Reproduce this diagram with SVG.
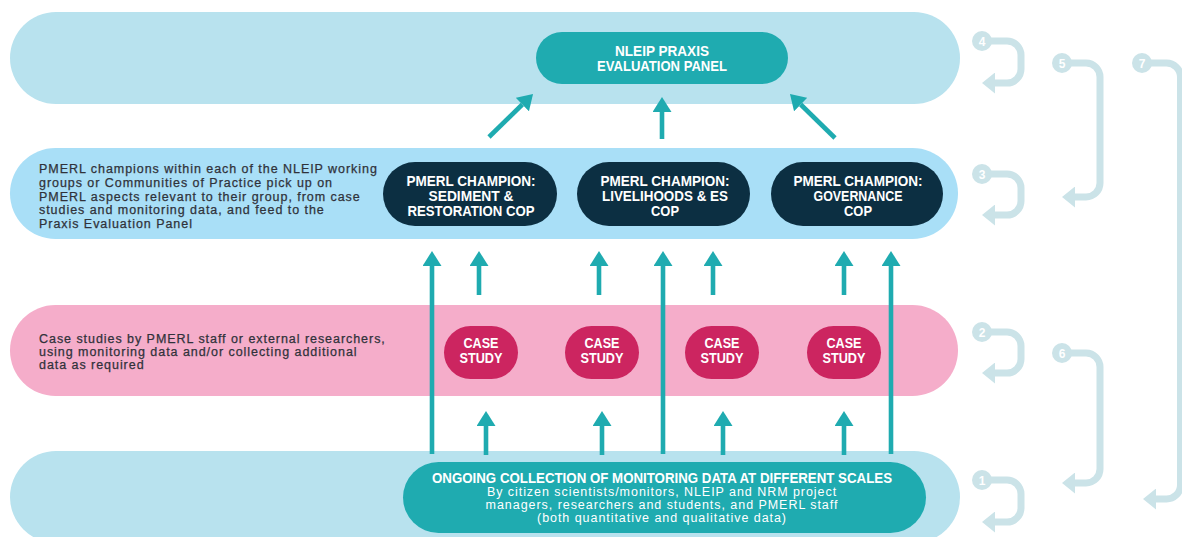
<svg xmlns="http://www.w3.org/2000/svg" width="1182" height="537" viewBox="0 0 1182 537">
  <style>
    .band-top { fill: #b8e2ee; }
    .band-champ { fill: #a9dff7; }
    .band-case { fill: #f5adca; }
    .teal { fill: #1fabb0; }
    .navy { fill: #0c2f42; }
    .crimson { fill: #cc2560; }
    .desc { font-family: "Liberation Sans", Arial, sans-serif; font-size: 12.5px; letter-spacing: 0.95px; fill: #30323a; stroke: #30323a; stroke-width: 0.25px; }
    .desc-white { font-family: "Liberation Sans", Arial, sans-serif; font-size: 12.5px; letter-spacing: 0.95px; fill: #ffffff; text-anchor: middle; }
    .cap { font-family: "Liberation Sans", Arial, sans-serif; font-weight: bold; fill: #ffffff; text-anchor: middle; }
    .flow { stroke: #1fabb0; stroke-width: 4.6; fill: none; marker-end: url(#tealHead); }
    .loop { stroke: #cbe3e8; stroke-width: 7; fill: none; marker-end: url(#loopHead); }
    .step-dot { fill: #cbe3e8; }
    .step-num { font-family: "Liberation Sans", Arial, sans-serif; font-weight: bold; font-size: 12px; fill: #ffffff; text-anchor: middle; }
  </style>
  <defs>
    <marker id="tealHead" viewBox="0 0 15 19" refX="0" refY="9.5" markerWidth="15" markerHeight="19" markerUnits="userSpaceOnUse" orient="auto">
      <path d="M0,0 L15,9.5 L0,19 z" fill="#1fabb0"/>
    </marker>
    <marker id="loopHead" viewBox="0 0 13 21" refX="0" refY="10.5" markerWidth="13" markerHeight="21" markerUnits="userSpaceOnUse" orient="auto">
      <path d="M0,0 L13,10.5 L0,21 z" fill="#cbe3e8"/>
    </marker>
  </defs>

  <!-- background tiers -->
  <g id="tier-panel">
    <rect class="band-top" x="10" y="12" width="950" height="92" rx="46"/>
  </g>
  <g id="tier-champions">
    <rect class="band-champ" x="10" y="148" width="948" height="91" rx="45.5"/>
    <text class="desc" x="39" y="173">PMERL champions within each of the NLEIP working</text>
    <text class="desc" x="39" y="187">groups or Communities of Practice pick up on</text>
    <text class="desc" x="39" y="201">PMERL aspects relevant to their group, from case</text>
    <text class="desc" x="39" y="214">studies and monitoring data, and feed to the</text>
    <text class="desc" x="39" y="228">Praxis Evaluation Panel</text>
  </g>
  <g id="tier-case-studies">
    <rect class="band-case" x="10" y="305" width="948" height="91" rx="45.5"/>
    <text class="desc" x="39" y="343">Case studies by PMERL staff or external researchers,</text>
    <text class="desc" x="39" y="356">using monitoring data and/or collecting additional</text>
    <text class="desc" x="39" y="369">data as required</text>
  </g>
  <g id="tier-monitoring">
    <rect class="band-top" x="10" y="451" width="950" height="92" rx="46"/>
  </g>

  <!-- connectors -->
  <g id="connectors">
    <!-- champions to panel -->
    <line class="flow" x1="489" y1="137" x2="522.3" y2="104.5"/>
    <line class="flow" x1="662" y1="139" x2="662" y2="112"/>
    <line class="flow" x1="835" y1="138" x2="800.7" y2="104.5"/>
    <!-- monitoring straight to champions -->
    <line class="flow" x1="432" y1="454" x2="432" y2="266"/>
    <line class="flow" x1="663" y1="454" x2="663" y2="266"/>
    <line class="flow" x1="891" y1="454" x2="891" y2="266"/>
    <!-- case studies to champions -->
    <line class="flow" x1="479" y1="295" x2="479" y2="266"/>
    <line class="flow" x1="599" y1="295" x2="599" y2="266"/>
    <line class="flow" x1="713" y1="295" x2="713" y2="266"/>
    <line class="flow" x1="844" y1="295" x2="844" y2="266"/>
    <!-- monitoring to case studies -->
    <line class="flow" x1="486" y1="455" x2="486" y2="426"/>
    <line class="flow" x1="602" y1="455" x2="602" y2="426"/>
    <line class="flow" x1="723" y1="455" x2="723" y2="426"/>
    <line class="flow" x1="844" y1="455" x2="844" y2="426"/>

    <!-- feedback loops -->
    <path class="loop" d="M982,41 H1007 A14,14 0 0 1 1021,55 V69 A14,14 0 0 1 1007,83 H995"/>
    <path class="loop" d="M982,174 H1007 A14,14 0 0 1 1021,188 V201 A14,14 0 0 1 1007,215 H995"/>
    <path class="loop" d="M982,332 H1007 A14,14 0 0 1 1021,346 V359 A14,14 0 0 1 1007,373 H995"/>
    <path class="loop" d="M982,480 H1007 A14,14 0 0 1 1021,494 V508 A14,14 0 0 1 1007,522 H995"/>
    <path class="loop" d="M1062,63 H1086 A14,14 0 0 1 1100,77 V183 A14,14 0 0 1 1086,197 H1075"/>
    <path class="loop" d="M1062,353 H1086 A14,14 0 0 1 1100,367 V469 A14,14 0 0 1 1086,483 H1075"/>
    <path class="loop" d="M1142,63 H1166 A14,14 0 0 1 1180.5,77 V485 A14,14 0 0 1 1166,499 H1156"/>
  </g>

  <!-- step markers -->
  <g id="step-4"><circle class="step-dot" cx="982" cy="41" r="10"/><text class="step-num" x="982" y="45.5">4</text></g>
  <g id="step-3"><circle class="step-dot" cx="982" cy="174" r="10"/><text class="step-num" x="982" y="178.5">3</text></g>
  <g id="step-2"><circle class="step-dot" cx="982" cy="332" r="10"/><text class="step-num" x="982" y="336.5">2</text></g>
  <g id="step-1"><circle class="step-dot" cx="982" cy="480" r="10"/><text class="step-num" x="982" y="484.5">1</text></g>
  <g id="step-5"><circle class="step-dot" cx="1062" cy="63" r="10"/><text class="step-num" x="1062" y="67.5">5</text></g>
  <g id="step-6"><circle class="step-dot" cx="1062" cy="353" r="10"/><text class="step-num" x="1062" y="357.5">6</text></g>
  <g id="step-7"><circle class="step-dot" cx="1142" cy="63" r="10"/><text class="step-num" x="1142" y="67.5">7</text></g>

  <!-- nodes -->
  <g id="praxis-panel">
    <rect class="teal" x="536" y="32" width="252" height="52" rx="26"/>
    <text class="cap" x="662" y="56" font-size="14" textLength="94" lengthAdjust="spacingAndGlyphs">NLEIP PRAXIS</text>
    <text class="cap" x="662" y="71" font-size="14" textLength="130" lengthAdjust="spacingAndGlyphs">EVALUATION PANEL</text>
  </g>

  <g id="champion-sediment">
    <rect class="navy" x="383" y="162" width="174" height="64" rx="32"/>
    <text class="cap" x="471" y="186" font-size="15" textLength="129" lengthAdjust="spacingAndGlyphs">PMERL CHAMPION:</text>
    <text class="cap" x="471" y="201" font-size="15" textLength="85" lengthAdjust="spacingAndGlyphs">SEDIMENT &amp;</text>
    <text class="cap" x="471" y="216" font-size="15" textLength="127" lengthAdjust="spacingAndGlyphs">RESTORATION COP</text>
  </g>
  <g id="champion-livelihoods">
    <rect class="navy" x="577" y="162" width="173" height="64" rx="32"/>
    <text class="cap" x="665" y="186" font-size="15" textLength="129" lengthAdjust="spacingAndGlyphs">PMERL CHAMPION:</text>
    <text class="cap" x="665" y="201" font-size="15" textLength="126" lengthAdjust="spacingAndGlyphs">LIVELIHOODS &amp; ES</text>
    <text class="cap" x="665" y="216" font-size="15" textLength="28" lengthAdjust="spacingAndGlyphs">COP</text>
  </g>
  <g id="champion-governance">
    <rect class="navy" x="771" y="162" width="172" height="64" rx="32"/>
    <text class="cap" x="858" y="186" font-size="15" textLength="129" lengthAdjust="spacingAndGlyphs">PMERL CHAMPION:</text>
    <text class="cap" x="858" y="201" font-size="15" textLength="89" lengthAdjust="spacingAndGlyphs">GOVERNANCE</text>
    <text class="cap" x="858" y="216" font-size="15" textLength="28" lengthAdjust="spacingAndGlyphs">COP</text>
  </g>

  <g id="case-study-1">
    <rect class="crimson" x="444" y="326" width="74" height="53" rx="26.5"/>
    <text class="cap" x="481" y="348" font-size="15.5" textLength="35" lengthAdjust="spacingAndGlyphs">CASE</text>
    <text class="cap" x="481" y="363" font-size="15.5" textLength="43" lengthAdjust="spacingAndGlyphs">STUDY</text>
  </g>
  <g id="case-study-2">
    <rect class="crimson" x="565" y="326" width="74" height="53" rx="26.5"/>
    <text class="cap" x="602" y="348" font-size="15.5" textLength="35" lengthAdjust="spacingAndGlyphs">CASE</text>
    <text class="cap" x="602" y="363" font-size="15.5" textLength="43" lengthAdjust="spacingAndGlyphs">STUDY</text>
  </g>
  <g id="case-study-3">
    <rect class="crimson" x="685" y="326" width="74" height="53" rx="26.5"/>
    <text class="cap" x="722" y="348" font-size="15.5" textLength="35" lengthAdjust="spacingAndGlyphs">CASE</text>
    <text class="cap" x="722" y="363" font-size="15.5" textLength="43" lengthAdjust="spacingAndGlyphs">STUDY</text>
  </g>
  <g id="case-study-4">
    <rect class="crimson" x="807" y="326" width="74" height="53" rx="26.5"/>
    <text class="cap" x="844" y="348" font-size="15.5" textLength="35" lengthAdjust="spacingAndGlyphs">CASE</text>
    <text class="cap" x="844" y="363" font-size="15.5" textLength="43" lengthAdjust="spacingAndGlyphs">STUDY</text>
  </g>

  <g id="monitoring-data">
    <rect class="teal" x="403" y="462" width="523" height="71" rx="35.5"/>
    <text class="cap" x="662" y="483" font-size="15" textLength="460" lengthAdjust="spacingAndGlyphs">ONGOING COLLECTION OF MONITORING DATA AT DIFFERENT SCALES</text>
    <text class="desc-white" x="662" y="496">By citizen scientists/monitors, NLEIP and NRM project</text>
    <text class="desc-white" x="662" y="509">managers, researchers and students, and PMERL staff</text>
    <text class="desc-white" x="662" y="522">(both quantitative and qualitative data)</text>
  </g>
</svg>
